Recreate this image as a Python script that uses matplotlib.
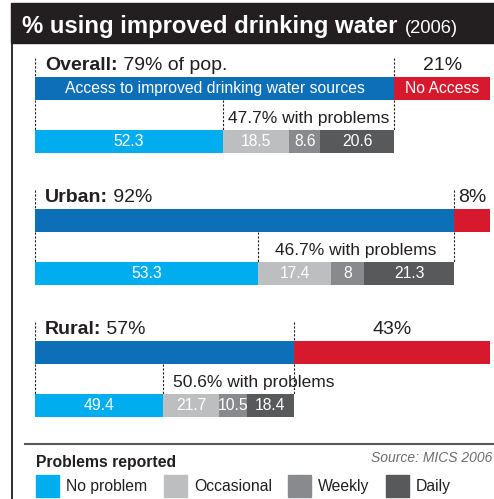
import matplotlib
matplotlib.use("Agg")
import matplotlib.pyplot as plt
from matplotlib.patches import Rectangle

plt.rcParams['font.family'] = ['Liberation Sans', 'DejaVu Sans']

# data
groups = ["Overall", "Urban", "Rural"]
group_suffix = [" 79% of pop.", " 92%", " 57%"]
access = [79, 92, 57]
no_access = [21, 8, 43]
with_problems = [47.7, 46.7, 50.6]
problem_cats = ["No problem", "Occasional", "Weekly", "Daily"]
problems = [
    [52.3, 18.5, 8.6, 20.6],
    [53.3, 17.4, 8, 21.3],
    [49.4, 21.7, 10.5, 18.4],
]
title = "% using improved drinking water"
title_year = "(2006)"
source = "Source: MICS 2006"

c_access = "#0d6fb8"
c_none = "#d7192d"
c_probs = ["#00aeef", "#bcbec0", "#898a8d", "#58595b"]

W, H = 494, 499
fig = plt.figure(figsize=(W / 100, H / 100), dpi=100)
ax = fig.add_axes([0, 0, 1, 1])
ax.set_xlim(0, W)
ax.set_ylim(H, 0)
ax.axis("off")

# bars axes: x in percent, y in pixel rows
bx = fig.add_axes([35 / W, 0, 455 / W, 1])
bx.set_xlim(0, 100)
bx.set_ylim(H, 0)
bx.axis("off")

renderer = fig.canvas.get_renderer()


def right_edge(t, axes):
    bb = t.get_window_extent(renderer)
    return axes.transData.inverted().transform((bb.x1, bb.y0))[0]


# title bar and frame
ax.add_patch(Rectangle((11, 3), W - 11, 40, color="#231f20", zorder=1))
ax.plot([11.5, 11.5], [43, H], color="#231f20", lw=1.3)
t = ax.text(22, 33, title, color="white", fontsize=17.2, fontweight="bold", va="baseline")
x_end = right_edge(t, ax)
ax.text(x_end + 7, 33, title_year, color="white", fontsize=13.2, va="baseline")

bar_h = 23
bar_tops = [77, 209, 341]
sub_gap = 53
align = ["center", "center", "left"]
dash = dict(color="#231f20", lw=0.8, ls=(0, (2, 1.5)))

for i, g in enumerate(groups):
    top = bar_tops[i]
    sub_top = top + sub_gap
    a = access[i]

    bx.barh(top + bar_h / 2, a, left=0, height=bar_h, color=c_access)
    bx.barh(top + bar_h / 2, no_access[i], left=a, height=bar_h, color=c_none)

    # header text
    th = bx.text(2.2, top - 7, g + ":", fontsize=14, fontweight="bold",
                 color="#231f20", va="baseline")
    xe = right_edge(th, bx)
    bx.text(xe, top - 7, group_suffix[i], fontsize=14, color="#231f20", va="baseline")
    bx.text(a + no_access[i] / 2, top - 7, f"{no_access[i]:g}%", fontsize=14,
            color="#231f20", ha="center", va="baseline")

    if i == 0:
        bx.text(a / 2, top + bar_h / 2, "Access to improved drinking water sources",
                fontsize=11.3, color="white", ha="center", va="center")
        bx.text(a + no_access[i] / 2, top + bar_h / 2, "No Access",
                fontsize=11.3, color="white", ha="center", va="center")

    # problem breakdown, scaled to the access segment
    left = 0
    for v, c in zip(problems[i], c_probs):
        w = a * v / 100
        bx.barh(sub_top + bar_h / 2, w, left=left, height=bar_h, color=c)
        bx.text(left + w / 2, sub_top + bar_h / 2 + 0.5, f"{v:g}", fontsize=11.3,
                color="white", ha="center", va="center")
        left += w

    split = a * problems[i][0] / 100
    # dashed guides
    for x in (0, a):
        bx.plot([x, x], [top - 19, top], **dash)
    for x in (0, split, a):
        bx.plot([x, x], [top + bar_h, sub_top], **dash)

    lbl = f"{with_problems[i]:g}% with problems"
    if align[i] == "center":
        bx.text((split + a) / 2, sub_top - 7, lbl, fontsize=12.5, color="#231f20",
                ha="center", va="baseline")
    else:
        bx.text(split + 2.2, sub_top - 7, lbl, fontsize=12.5, color="#231f20",
                ha="left", va="baseline")

# legend area
ax.plot([25, W], [444, 444], color="#58595b", lw=1.5)
ax.text(36, 467, "Problems reported", fontsize=11.3, fontweight="bold",
        color="#231f20", va="baseline")
ax.text(W - 2, 462, source, fontsize=10, style="italic", color="#6d6e71",
        ha="right", va="baseline")
leg_x = [36, 164, 288, 386]
for x, c, name in zip(leg_x, c_probs, problem_cats):
    ax.add_patch(Rectangle((x, 475), 23, 22, color=c))
    ax.text(x + 30, 486.5, name, fontsize=11.3, color="#231f20", va="center")

fig.savefig("out.png", dpi=100)
